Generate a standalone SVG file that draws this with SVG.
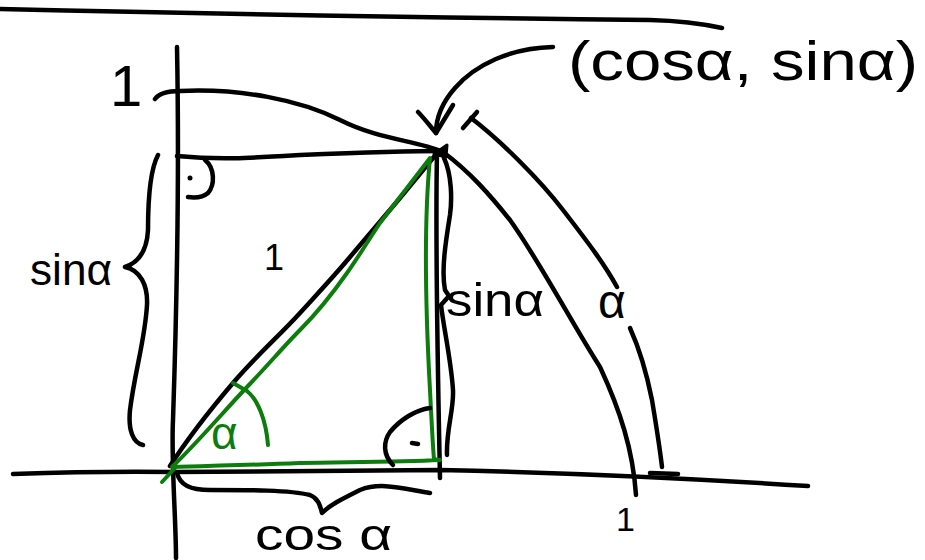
<svg xmlns="http://www.w3.org/2000/svg" width="925" height="560" viewBox="0 0 925 560">
<style>
.k{fill:none;stroke:#000;stroke-width:4.5;stroke-linecap:round;stroke-linejoin:round}
.g{fill:none;stroke:#0c7c0c;stroke-width:4;stroke-linecap:round;stroke-linejoin:round}
.t{font-family:"Liberation Sans","DejaVu Sans",sans-serif;fill:#000}
</style>
<rect width="925" height="560" fill="#fff"/>
<g id="axes">
<path class="k" d="M0,9 Q350,17 650,20 Q690,21 722,28"/>
<path class="k" d="M177,47 C179,150 177,300 173,420 C171,460 176,520 176,558"/>
<path class="k" d="M13,474 Q100,471 173,472 L440,470 Q620,474 808,486"/>
</g>
<g id="unit-circle">
<path class="k" d="M155,99 C160,92 170,91 180,91 C240,88 300,100 340,120 C380,140 415,140 443,152 C470,172 490,195 510,220 C540,262 570,320 600,367 C620,410 633,450 636,495"/>
</g>
<g id="lines">
<path class="k" d="M177,156 C220,160 250,158 300,155 C350,153 400,151 443,151"/>
<path class="k" d="M437,152 C435,250 438,380 440,478"/>
<path class="k" d="M170,466 C190,435 210,410 233,383 S280,335 300,313 S335,275 350,257 S390,210 400,198 L438,152"/>
<path d="M434,154 L447,145 L446,157 Z" fill="#000" stroke="#000" stroke-width="3" stroke-linejoin="round"/>
</g>
<g id="triangle">
<path class="g" d="M162,482 L175,468"/>
<path class="g" d="M172,467 C200,440 225,410 247,387 S285,345 300,330 S335,290 347,273 S370,238 380,223 L430,158 C424,220 425,300 430,390 C432,430 433,450 434,459 L440,460 C400,462 350,462 300,463 C250,465 210,466 172,467 Z"/>
<path class="g" d="M233,383 L247,391 C258,400 266,420 268,445"/>
<text class="t" x="211" y="449" font-size="46" style="fill:#0c7c0c">α</text>
</g>
<g id="right-angles">
<path class="k" d="M205,160 C215,168 215,185 208,193 C202,198 195,198 188,197"/>
<circle cx="190" cy="178" r="2.5" fill="#000"/>
<path class="k" d="M430,408 C415,410 400,420 390,432 C383,442 383,455 393,465"/>
<path class="k" d="M412,443 L418,444"/>
</g>
<g id="braces">
<path class="k" d="M158,155 C150,170 148,200 148,230 C147,250 140,262 125,267 C140,270 148,285 147,305 C145,340 135,370 130,410 C128,430 133,443 143,445"/>
<path class="k" d="M444,158 C452,175 452,200 450,215 C446,240 441,270 445,290 L449,296 L441,305 C444,330 451,360 453,390 C454,410 446,430 447,455"/>
<path class="k" d="M177,473 C180,485 190,490 210,490 C250,490 290,490 310,495 C318,498 320,505 322,513 C330,505 340,500 360,490 C380,482 400,488 430,493"/>
</g>
<g id="arc-alpha">
<path class="k" d="M463,128 L477,112"/>
<path class="k" d="M471,118 C500,140 540,180 563,210 C590,245 605,265 617,287"/>
<path class="k" d="M630,328 C640,350 648,380 652,400 C657,430 660,450 662,467"/>
<path class="k" d="M650,473 L678,474"/>
</g>
<g id="arrow">
<path class="k" d="M553,47 C510,48 475,65 455,88 C440,105 436,120 436,133"/>
<path class="k" d="M418,112 C424,118 430,126 436,133 L453,105"/>
</g>
<g id="labels">
<text class="t" x="568" y="80" font-size="56" textLength="350" lengthAdjust="spacingAndGlyphs">(cosα, sinα)</text>
<text class="t" x="110" y="106" font-size="58">1</text>
<text class="t" x="30" y="285" font-size="44" textLength="82" lengthAdjust="spacingAndGlyphs">sinα</text>
<text class="t" x="264" y="270" font-size="36">1</text>
<text class="t" x="446" y="316" font-size="46" textLength="98" lengthAdjust="spacingAndGlyphs">sinα</text>
<text class="t" x="598" y="318" font-size="48">α</text>
<text class="t" x="616" y="531" font-size="34">1</text>
<text class="t" x="255" y="550" font-size="44" textLength="137" lengthAdjust="spacingAndGlyphs">cos α</text>
</g>
</svg>
